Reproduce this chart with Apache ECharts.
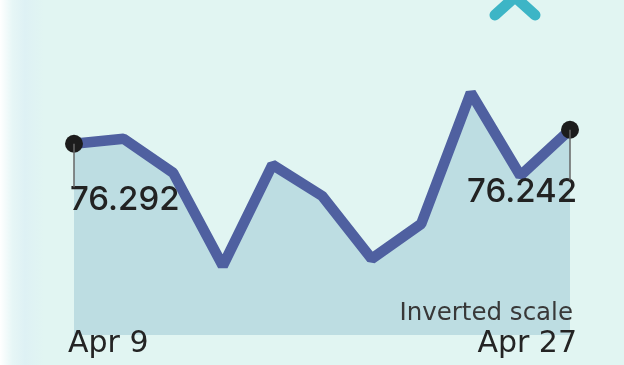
<!DOCTYPE html>
<html><head><meta charset="utf-8">
<style>html,body{margin:0;padding:0;background:#e0f4f2;}#c{width:624px;height:365px;}</style>
<script src="https://cdn.jsdelivr.net/npm/echarts@6/dist/echarts.min.js"></script>
</head><body><div id="c"></div>
<script>
const categories = ['Apr 9','Apr 11','Apr 13','Apr 15','Apr 17','Apr 19','Apr 20','Apr 22','Apr 24','Apr 25','Apr 27'];
const values = [76.292, 76.274, 76.396, 76.728, 76.367, 76.478, 76.703, 76.578, 76.110, 76.406, 76.242];
const yMin = 76.0, yMax = 76.975;
const subtitle = 'Inverted scale';

const last = values.length - 1;
const chart = echarts.init(document.getElementById('c'), null, {renderer:'canvas'});
const data = values.map((v,i)=>{
  if(i===0) return {value:v, label:{show:true, position:'bottom', align:'left', distance:31, offset:[-4,0]}};
  if(i===last) return {value:v, label:{show:true, position:'bottom', align:'right', distance:37, offset:[7,0]}};
  return v;
});
const option = {
  backgroundColor: {type:'linear', x:0, y:0, x2:1, y2:0, colorStops:[
    {offset:0, color:'#ffffff'},{offset:0.02, color:'#e6f6f6'},{offset:0.04, color:'#def1f4'},{offset:0.07, color:'#e1f5f2'},{offset:1, color:'#e1f5f2'}]},
  animation:false,
  grid:{left:74, right:54, top:62, height:273, containLabel:false},
  xAxis:{type:'category', data:categories, boundaryGap:false,
    axisLine:{show:false}, axisTick:{show:false}, splitLine:{show:false}, axisLabel:{show:false}},
  yAxis:{type:'value', inverse:true, min:yMin, max:yMax, show:false},
  series:[{
    type:'line', data:data,
    symbol:'circle',
    symbolSize:(v,p)=> (p.dataIndex===0||p.dataIndex===last)?18:0,
    itemStyle:{color:'#1c1c1c'},
    lineStyle:{color:'#4f60a0', width:10.5},
    areaStyle:{color:'#bddde2', opacity:1, origin:'end'},
    label:{show:false, formatter:(p)=>p.value.toFixed(3), fontFamily:'Inter', fontWeight:500, fontSize:33, color:'#222'},
    markLine:{silent:true, symbol:'none', label:{show:false}, lineStyle:{color:'#666', width:1.5, type:'solid'},
      data:[
        [{coord:[0, values[0]]},{coord:[0, values[0]+0.155]}],
        [{coord:[last, values[last]]},{coord:[last, values[last]+0.18]}]
      ]},
    z:3
  }]
};
chart.setOption(option);
const x0 = chart.convertToPixel({xAxisIndex:0}, 0);
const x1 = chart.convertToPixel({xAxisIndex:0}, last);
chart.setOption({graphic:[
  {type:'polyline', z:10, shape:{points:[[495,15],[515,-3],[535,15]]}, style:{stroke:'#3db5c6', lineWidth:11, lineCap:'round', lineJoin:'round', fill:null}},
  {type:'text', z:10, x:x1+3, y:301, style:{text:subtitle, align:'right', verticalAlign:'top', font:'24.5px "DejaVu Sans"', fill:'#383838'}},
  {type:'text', z:10, x:x0-6, y:329, style:{text:categories[0], align:'left', verticalAlign:'top', font:'30px "DejaVu Sans"', fill:'#242424'}},
  {type:'text', z:10, x:x1+7, y:329, style:{text:categories[last], align:'right', verticalAlign:'top', font:'30px "DejaVu Sans"', fill:'#242424'}}
]});
</script></body></html>
